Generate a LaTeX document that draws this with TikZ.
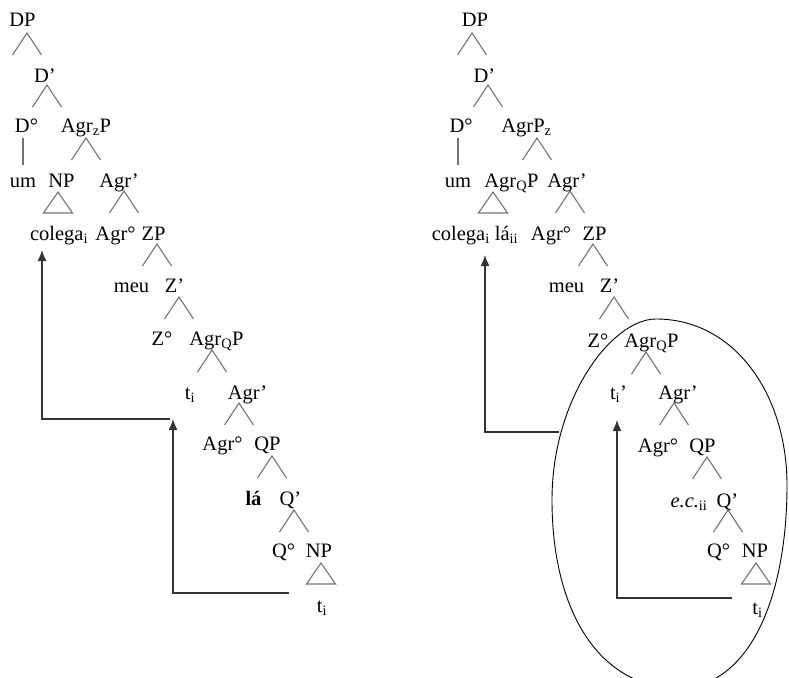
\documentclass[tikz,border=0pt]{standalone}
\usepackage{fontspec}
\setmainfont{Liberation Serif}
\usetikzlibrary{arrows.meta}
\begin{document}
\begin{tikzpicture}[x=1pt,y=-1pt,
  lab/.style={anchor=base,inner sep=0pt,font=\fontsize{20.5}{24}\selectfont},
  branch/.style={draw=black!55,line width=1.1pt},
  mvtip/.style={draw=black!80,line width=1.4pt,-{Latex[length=11pt,width=9pt]}},
  br/.pic={\draw[branch] (-14.5,22) -- (0,0) -- (14.5,22);},
  tri/.pic={\draw[branch] (0,0) -- (-14.5,21) -- (14.5,21) -- cycle;}]
\useasboundingbox (0,0) rectangle (789,677);

% ---------------- left tree ----------------
\node[lab] (l-dp) at (22.5,27) {DP};
\node[lab] (l-d1) at (45,82) {D’};
\node[lab] (l-d0) at (26.5,132) {D°};
\node[lab] (l-agrzp) at (86,132) {Agr\textsubscript{z}P};
\node[lab] (l-um) at (23,187) {um};
\node[lab] (l-np) at (61.5,187) {NP};
\node[lab] (l-agr1) at (119,187) {Agr’};
\node[lab] (l-colega) at (59,240) {colega\textsubscript{i}};
\node[lab] (l-agr0) at (115.5,240) {Agr°};
\node[lab] (l-zp) at (153.5,240) {ZP};
\node[lab] (l-meu) at (131.5,292) {meu};
\node[lab] (l-z1) at (174.5,292) {Z’};
\node[lab] (l-z0) at (162,345) {Z°};
\node[lab] (l-agrqp) at (216.5,345) {Agr\textsubscript{Q}P};
\node[lab] (l-ti1) at (190,399) {t\textsubscript{i}};
\node[lab] (l-agr1b) at (247.5,399) {Agr’};
\node[lab] (l-agr0b) at (222.5,450) {Agr°};
\node[lab] (l-qp) at (267.5,450) {QP};
\node[lab] (l-la) at (253.5,505) {\textbf{lá}};
\node[lab] (l-q1) at (290.5,505) {Q’};
\node[lab] (l-q0) at (283.5,557) {Q°};
\node[lab] (l-np2) at (319,557) {NP};
\node[lab] (l-ti2) at (322,612) {t\textsubscript{i}};

\pic at (27,33) {br};
\pic at (47,85) {br};
\draw[branch] (23,138) -- (23,165);
\pic at (86,138) {br};
\pic at (58,192) {tri};
\pic at (124,191) {br};
\pic at (157,244) {br};
\pic at (179,297) {br};
\pic at (212,350) {br};
\pic at (239,403) {br};
\pic at (272,456) {br};
\pic at (294,510) {br};
\pic at (321,563) {tri};

\coordinate (la1) at (289,593);
\coordinate (la2) at (173,593);
\coordinate (la3) at (173,419);
\coordinate (lb1) at (170,419);
\coordinate (lb2) at (42,419);
\coordinate (lb3) at (42,250);
\draw[mvtip] (la1) -- (la2) -- (la3);
\draw[mvtip] (lb1) -- (lb2) -- (lb3);

% ---------------- right tree ----------------
\node[lab] (r-dp) at (475,27) {DP};
\node[lab] (r-d1) at (484.5,82) {D’};
\node[lab] (r-d0) at (461,132) {D°};
\node[lab] (r-agrpz) at (526.5,132) {AgrP\textsubscript{z}};
\node[lab] (r-um) at (458,187) {um};
\node[lab] (r-agrqp) at (511.5,187) {Agr\textsubscript{Q}P};
\node[lab] (r-agr1) at (567,187) {Agr’};
\node[lab] (r-colega) at (475,240) {colega\textsubscript{i} lá\textsubscript{ii}};
\node[lab] (r-agr0) at (551,240) {Agr°};
\node[lab] (r-zp) at (594.5,240) {ZP};
\node[lab] (r-meu) at (566.5,292) {meu};
\node[lab] (r-z1) at (609.5,292) {Z’};
\node[lab] (r-z0) at (598,347) {Z°};
\node[lab] (r-agrqp2) at (651.5,347) {Agr\textsubscript{Q}P};
\node[lab] (r-ti1) at (618.5,399) {t\textsubscript{i}’};
\node[lab] (r-agr1b) at (678,399) {Agr’};
\node[lab] (r-agr0b) at (658,452) {Agr°};
\node[lab] (r-qp) at (702.5,452) {QP};
\node[lab] (r-ec) at (689,507) {\textit{e.c.}\textsubscript{ii}};
\node[lab] (r-q1) at (727.5,507) {Q’};
\node[lab] (r-q0) at (718.5,557) {Q°};
\node[lab] (r-np2) at (755,557) {NP};
\node[lab] (r-ti2) at (757.5,614) {t\textsubscript{i}};

\pic at (472,33) {br};
\pic at (488,85) {br};
\draw[branch] (458,138) -- (458,165);
\pic at (537,138) {br};
\pic at (493,192) {tri};
\pic at (570,191) {br};
\pic at (593,244) {br};
\pic at (614,297) {br};
\pic at (646,352) {br};
\pic at (674,403) {br};
\pic at (707,457) {br};
\pic at (728,510) {br};
\pic at (756,563) {tri};

% oval round the lower part of the right tree
\coordinate (ovT) at (656,319);
\coordinate (ovR) at (787,485);
\coordinate (ovB) at (678,688);
\coordinate (ovL) at (552,500);
\draw[line width=0.9pt]
  (ovR) .. controls (787,395) and (735,319) .. (ovT)
        .. controls (612,319) and (552,398) .. (ovL)
        .. controls (552,612) and (600,688) .. (ovB)
        .. controls (748,688) and (787,600) .. (ovR) -- cycle;

\coordinate (ra1) at (559,432);
\coordinate (ra2) at (485,432);
\coordinate (ra3) at (485,255);
\coordinate (rb1) at (732,598);
\coordinate (rb2) at (617,598);
\coordinate (rb3) at (617,420);
\draw[mvtip] (ra1) -- (ra2) -- (ra3);
\draw[mvtip] (rb1) -- (rb2) -- (rb3);
\end{tikzpicture}
\end{document}
